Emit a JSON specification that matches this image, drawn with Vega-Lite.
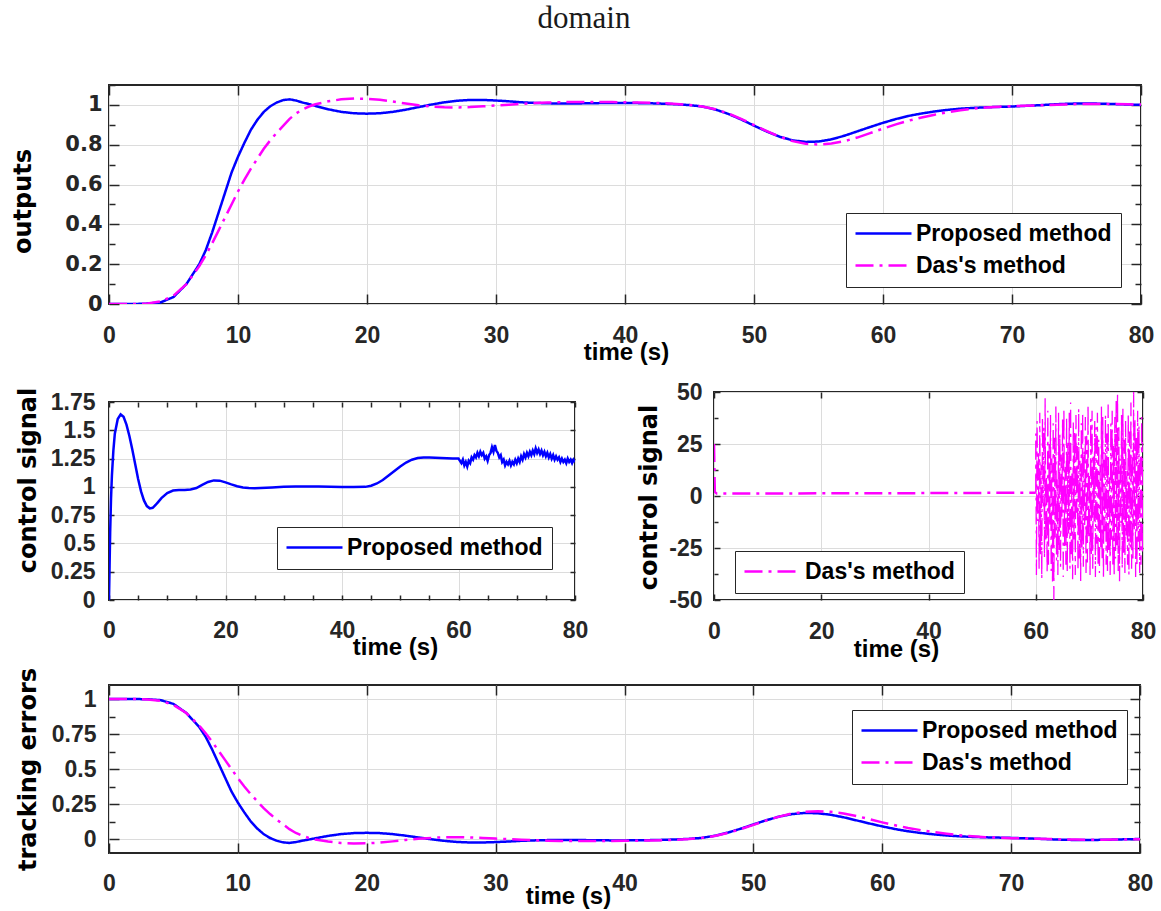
{
"$schema": "https://vega.github.io/schema/vega-lite/v6.json",
"autosize": {"type": "none"},
"padding": {"left": 109, "top": 85, "right": 1052, "bottom": 826},
"background": "white",
"config": {
  "view": {"stroke": "#262626", "strokeWidth": 2},
  "axis": {"domain": false, "labelFont": "Liberation Sans", "labelFontWeight": "bold", "labelFontSize": 23, "labelColor": "#262626",
           "labelFlush": false, "labelOverlap": false, "titleFont": "Liberation Sans", "titleFontWeight": "bold", "titleFontSize": 24,
           "titleColor": "black", "gridColor": "#dcdcdc", "gridWidth": 1, "tickColor": "#262626", "tickWidth": 1.5},
  "legend": {"title": null, "orient": "none", "direction": "vertical", "strokeColor": "#262626", "fillColor": "white", "padding": 9,
             "symbolType": "M-2.8,0L2.8,0", "symbolSize": 400, "symbolStrokeWidth": 2.5, "symbolOffset": 17,
             "labelFont": "Liberation Sans", "labelFontSize": 23, "labelFontWeight": "bold", "labelColor": "black", "labelOffset": 21, "rowPadding": 8, "labelLimit": 400}
},
"datasets": {
  "out": [
    {"t":0,"m":"Proposed method","v":0},{"t":1,"m":"Proposed method","v":0},{"t":2,"m":"Proposed method","v":0},{"t":3,"m":"Proposed method","v":0.002},{"t":4,"m":"Proposed method","v":0.008},{"t":5,"m":"Proposed method","v":0.035},{"t":6,"m":"Proposed method","v":0.1},{"t":6.5,"m":"Proposed method","v":0.15},{"t":7,"m":"Proposed method","v":0.2},{"t":7.5,"m":"Proposed method","v":0.27},{"t":8,"m":"Proposed method","v":0.36},{"t":8.5,"m":"Proposed method","v":0.46},{"t":9,"m":"Proposed method","v":0.56},{"t":9.5,"m":"Proposed method","v":0.66},{"t":10,"m":"Proposed method","v":0.74},{"t":10.5,"m":"Proposed method","v":0.81},{"t":11,"m":"Proposed method","v":0.875},{"t":11.5,"m":"Proposed method","v":0.925},{"t":12,"m":"Proposed method","v":0.965},{"t":12.5,"m":"Proposed method","v":0.993},{"t":13,"m":"Proposed method","v":1.012},{"t":13.5,"m":"Proposed method","v":1.024},{"t":14,"m":"Proposed method","v":1.028},{"t":14.5,"m":"Proposed method","v":1.022},{"t":15,"m":"Proposed method","v":1.012},{"t":15.5,"m":"Proposed method","v":1.004},{"t":16,"m":"Proposed method","v":0.995},{"t":17,"m":"Proposed method","v":0.978},{"t":18,"m":"Proposed method","v":0.965},{"t":19,"m":"Proposed method","v":0.958},{"t":20,"m":"Proposed method","v":0.956},{"t":21,"m":"Proposed method","v":0.958},{"t":22,"m":"Proposed method","v":0.965},{"t":23,"m":"Proposed method","v":0.976},{"t":24,"m":"Proposed method","v":0.989},{"t":25,"m":"Proposed method","v":1.002},{"t":26,"m":"Proposed method","v":1.013},{"t":27,"m":"Proposed method","v":1.021},{"t":28,"m":"Proposed method","v":1.025},{"t":29,"m":"Proposed method","v":1.025},{"t":30,"m":"Proposed method","v":1.022},{"t":31,"m":"Proposed method","v":1.018},{"t":32,"m":"Proposed method","v":1.013},{"t":33,"m":"Proposed method","v":1.01},{"t":34,"m":"Proposed method","v":1.008},{"t":35,"m":"Proposed method","v":1.007},{"t":36,"m":"Proposed method","v":1.007},{"t":37,"m":"Proposed method","v":1.008},{"t":38,"m":"Proposed method","v":1.009},{"t":39,"m":"Proposed method","v":1.01},{"t":40,"m":"Proposed method","v":1.01},{"t":41,"m":"Proposed method","v":1.009},{"t":42,"m":"Proposed method","v":1.008},{"t":43,"m":"Proposed method","v":1.006},{"t":44,"m":"Proposed method","v":1.003},{"t":45,"m":"Proposed method","v":0.999},{"t":46,"m":"Proposed method","v":0.992},{"t":47,"m":"Proposed method","v":0.977},{"t":48,"m":"Proposed method","v":0.955},{"t":49,"m":"Proposed method","v":0.927},{"t":50,"m":"Proposed method","v":0.896},{"t":51,"m":"Proposed method","v":0.866},{"t":52,"m":"Proposed method","v":0.84},{"t":53,"m":"Proposed method","v":0.822},{"t":54,"m":"Proposed method","v":0.814},{"t":55,"m":"Proposed method","v":0.816},{"t":56,"m":"Proposed method","v":0.827},{"t":57,"m":"Proposed method","v":0.845},{"t":58,"m":"Proposed method","v":0.867},{"t":59,"m":"Proposed method","v":0.889},{"t":60,"m":"Proposed method","v":0.91},{"t":61,"m":"Proposed method","v":0.929},{"t":62,"m":"Proposed method","v":0.945},{"t":63,"m":"Proposed method","v":0.957},{"t":64,"m":"Proposed method","v":0.967},{"t":65,"m":"Proposed method","v":0.975},{"t":66,"m":"Proposed method","v":0.981},{"t":67,"m":"Proposed method","v":0.985},{"t":68,"m":"Proposed method","v":0.988},{"t":69,"m":"Proposed method","v":0.99},{"t":70,"m":"Proposed method","v":0.992},{"t":71,"m":"Proposed method","v":0.995},{"t":72,"m":"Proposed method","v":0.998},{"t":73,"m":"Proposed method","v":1.002},{"t":74,"m":"Proposed method","v":1.005},{"t":75,"m":"Proposed method","v":1.007},{"t":76,"m":"Proposed method","v":1.007},{"t":77,"m":"Proposed method","v":1.006},{"t":78,"m":"Proposed method","v":1.004},{"t":79,"m":"Proposed method","v":1.002},{"t":80,"m":"Proposed method","v":1.0},
    {"t":0,"m":"Das's method","v":0},{"t":1,"m":"Das's method","v":0},{"t":2,"m":"Das's method","v":0},{"t":3,"m":"Das's method","v":0.003},{"t":4,"m":"Das's method","v":0.013},{"t":5,"m":"Das's method","v":0.042},{"t":6,"m":"Das's method","v":0.1},{"t":6.5,"m":"Das's method","v":0.145},{"t":7,"m":"Das's method","v":0.19},{"t":7.5,"m":"Das's method","v":0.245},{"t":8,"m":"Das's method","v":0.305},{"t":8.5,"m":"Das's method","v":0.37},{"t":9,"m":"Das's method","v":0.435},{"t":9.5,"m":"Das's method","v":0.5},{"t":10,"m":"Das's method","v":0.565},{"t":10.5,"m":"Das's method","v":0.625},{"t":11,"m":"Das's method","v":0.68},{"t":11.5,"m":"Das's method","v":0.73},{"t":12,"m":"Das's method","v":0.78},{"t":12.5,"m":"Das's method","v":0.822},{"t":13,"m":"Das's method","v":0.86},{"t":13.5,"m":"Das's method","v":0.895},{"t":14,"m":"Das's method","v":0.93},{"t":14.5,"m":"Das's method","v":0.957},{"t":15,"m":"Das's method","v":0.977},{"t":15.5,"m":"Das's method","v":0.992},{"t":16,"m":"Das's method","v":1.003},{"t":17,"m":"Das's method","v":1.018},{"t":18,"m":"Das's method","v":1.028},{"t":19,"m":"Das's method","v":1.032},{"t":20,"m":"Das's method","v":1.031},{"t":21,"m":"Das's method","v":1.026},{"t":22,"m":"Das's method","v":1.017},{"t":23,"m":"Das's method","v":1.007},{"t":24,"m":"Das's method","v":0.998},{"t":25,"m":"Das's method","v":0.992},{"t":26,"m":"Das's method","v":0.988},{"t":27,"m":"Das's method","v":0.987},{"t":28,"m":"Das's method","v":0.989},{"t":29,"m":"Das's method","v":0.993},{"t":30,"m":"Das's method","v":0.997},{"t":31,"m":"Das's method","v":1.001},{"t":32,"m":"Das's method","v":1.005},{"t":33,"m":"Das's method","v":1.009},{"t":34,"m":"Das's method","v":1.012},{"t":35,"m":"Das's method","v":1.014},{"t":36,"m":"Das's method","v":1.015},{"t":37,"m":"Das's method","v":1.015},{"t":38,"m":"Das's method","v":1.015},{"t":39,"m":"Das's method","v":1.014},{"t":40,"m":"Das's method","v":1.013},{"t":41,"m":"Das's method","v":1.012},{"t":42,"m":"Das's method","v":1.011},{"t":43,"m":"Das's method","v":1.009},{"t":44,"m":"Das's method","v":1.005},{"t":45,"m":"Das's method","v":1.0},{"t":46,"m":"Das's method","v":0.992},{"t":47,"m":"Das's method","v":0.978},{"t":48,"m":"Das's method","v":0.957},{"t":49,"m":"Das's method","v":0.93},{"t":50,"m":"Das's method","v":0.899},{"t":51,"m":"Das's method","v":0.868},{"t":52,"m":"Das's method","v":0.84},{"t":53,"m":"Das's method","v":0.818},{"t":54,"m":"Das's method","v":0.805},{"t":55,"m":"Das's method","v":0.801},{"t":56,"m":"Das's method","v":0.806},{"t":57,"m":"Das's method","v":0.818},{"t":58,"m":"Das's method","v":0.836},{"t":59,"m":"Das's method","v":0.858},{"t":60,"m":"Das's method","v":0.881},{"t":61,"m":"Das's method","v":0.902},{"t":62,"m":"Das's method","v":0.921},{"t":63,"m":"Das's method","v":0.937},{"t":64,"m":"Das's method","v":0.951},{"t":65,"m":"Das's method","v":0.963},{"t":66,"m":"Das's method","v":0.973},{"t":67,"m":"Das's method","v":0.981},{"t":68,"m":"Das's method","v":0.987},{"t":69,"m":"Das's method","v":0.991},{"t":70,"m":"Das's method","v":0.994},{"t":71,"m":"Das's method","v":0.996},{"t":72,"m":"Das's method","v":0.998},{"t":73,"m":"Das's method","v":1.0},{"t":74,"m":"Das's method","v":1.002},{"t":75,"m":"Das's method","v":1.004},{"t":76,"m":"Das's method","v":1.005},{"t":77,"m":"Das's method","v":1.005},{"t":78,"m":"Das's method","v":1.004},{"t":79,"m":"Das's method","v":1.003},{"t":80,"m":"Das's method","v":1.002}
  ],
  "err": [
    {"t":0,"m":"Proposed method","v":1},{"t":1,"m":"Proposed method","v":1},{"t":2,"m":"Proposed method","v":1},{"t":3,"m":"Proposed method","v":0.998},{"t":4,"m":"Proposed method","v":0.992},{"t":5,"m":"Proposed method","v":0.965},{"t":6,"m":"Proposed method","v":0.9},{"t":6.5,"m":"Proposed method","v":0.85},{"t":7,"m":"Proposed method","v":0.8},{"t":7.5,"m":"Proposed method","v":0.73},{"t":8,"m":"Proposed method","v":0.64},{"t":8.5,"m":"Proposed method","v":0.54},{"t":9,"m":"Proposed method","v":0.44},{"t":9.5,"m":"Proposed method","v":0.34},{"t":10,"m":"Proposed method","v":0.26},{"t":10.5,"m":"Proposed method","v":0.19},{"t":11,"m":"Proposed method","v":0.125},{"t":11.5,"m":"Proposed method","v":0.075},{"t":12,"m":"Proposed method","v":0.035},{"t":12.5,"m":"Proposed method","v":0.007},{"t":13,"m":"Proposed method","v":-0.012},{"t":13.5,"m":"Proposed method","v":-0.024},{"t":14,"m":"Proposed method","v":-0.028},{"t":14.5,"m":"Proposed method","v":-0.022},{"t":15,"m":"Proposed method","v":-0.012},{"t":15.5,"m":"Proposed method","v":-0.004},{"t":16,"m":"Proposed method","v":0.005},{"t":17,"m":"Proposed method","v":0.022},{"t":18,"m":"Proposed method","v":0.035},{"t":19,"m":"Proposed method","v":0.042},{"t":20,"m":"Proposed method","v":0.044},{"t":21,"m":"Proposed method","v":0.042},{"t":22,"m":"Proposed method","v":0.035},{"t":23,"m":"Proposed method","v":0.024},{"t":24,"m":"Proposed method","v":0.011},{"t":25,"m":"Proposed method","v":-0.002},{"t":26,"m":"Proposed method","v":-0.013},{"t":27,"m":"Proposed method","v":-0.021},{"t":28,"m":"Proposed method","v":-0.025},{"t":29,"m":"Proposed method","v":-0.025},{"t":30,"m":"Proposed method","v":-0.022},{"t":31,"m":"Proposed method","v":-0.018},{"t":32,"m":"Proposed method","v":-0.013},{"t":33,"m":"Proposed method","v":-0.01},{"t":34,"m":"Proposed method","v":-0.008},{"t":35,"m":"Proposed method","v":-0.007},{"t":36,"m":"Proposed method","v":-0.007},{"t":37,"m":"Proposed method","v":-0.008},{"t":38,"m":"Proposed method","v":-0.009},{"t":39,"m":"Proposed method","v":-0.01},{"t":40,"m":"Proposed method","v":-0.01},{"t":41,"m":"Proposed method","v":-0.009},{"t":42,"m":"Proposed method","v":-0.008},{"t":43,"m":"Proposed method","v":-0.006},{"t":44,"m":"Proposed method","v":-0.003},{"t":45,"m":"Proposed method","v":0.001},{"t":46,"m":"Proposed method","v":0.008},{"t":47,"m":"Proposed method","v":0.023},{"t":48,"m":"Proposed method","v":0.045},{"t":49,"m":"Proposed method","v":0.073},{"t":50,"m":"Proposed method","v":0.104},{"t":51,"m":"Proposed method","v":0.134},{"t":52,"m":"Proposed method","v":0.16},{"t":53,"m":"Proposed method","v":0.178},{"t":54,"m":"Proposed method","v":0.186},{"t":55,"m":"Proposed method","v":0.184},{"t":56,"m":"Proposed method","v":0.173},{"t":57,"m":"Proposed method","v":0.155},{"t":58,"m":"Proposed method","v":0.133},{"t":59,"m":"Proposed method","v":0.111},{"t":60,"m":"Proposed method","v":0.09},{"t":61,"m":"Proposed method","v":0.071},{"t":62,"m":"Proposed method","v":0.055},{"t":63,"m":"Proposed method","v":0.043},{"t":64,"m":"Proposed method","v":0.033},{"t":65,"m":"Proposed method","v":0.025},{"t":66,"m":"Proposed method","v":0.019},{"t":67,"m":"Proposed method","v":0.015},{"t":68,"m":"Proposed method","v":0.012},{"t":69,"m":"Proposed method","v":0.01},{"t":70,"m":"Proposed method","v":0.008},{"t":71,"m":"Proposed method","v":0.005},{"t":72,"m":"Proposed method","v":0.002},{"t":73,"m":"Proposed method","v":-0.002},{"t":74,"m":"Proposed method","v":-0.005},{"t":75,"m":"Proposed method","v":-0.007},{"t":76,"m":"Proposed method","v":-0.007},{"t":77,"m":"Proposed method","v":-0.006},{"t":78,"m":"Proposed method","v":-0.004},{"t":79,"m":"Proposed method","v":-0.002},{"t":80,"m":"Proposed method","v":0},
    {"t":0,"m":"Das's method","v":1},{"t":1,"m":"Das's method","v":1},{"t":2,"m":"Das's method","v":1},{"t":3,"m":"Das's method","v":0.997},{"t":4,"m":"Das's method","v":0.987},{"t":5,"m":"Das's method","v":0.958},{"t":6,"m":"Das's method","v":0.9},{"t":6.5,"m":"Das's method","v":0.855},{"t":7,"m":"Das's method","v":0.81},{"t":7.5,"m":"Das's method","v":0.755},{"t":8,"m":"Das's method","v":0.695},{"t":8.5,"m":"Das's method","v":0.63},{"t":9,"m":"Das's method","v":0.565},{"t":9.5,"m":"Das's method","v":0.5},{"t":10,"m":"Das's method","v":0.435},{"t":10.5,"m":"Das's method","v":0.375},{"t":11,"m":"Das's method","v":0.32},{"t":11.5,"m":"Das's method","v":0.27},{"t":12,"m":"Das's method","v":0.22},{"t":12.5,"m":"Das's method","v":0.178},{"t":13,"m":"Das's method","v":0.14},{"t":13.5,"m":"Das's method","v":0.105},{"t":14,"m":"Das's method","v":0.07},{"t":14.5,"m":"Das's method","v":0.043},{"t":15,"m":"Das's method","v":0.023},{"t":15.5,"m":"Das's method","v":0.008},{"t":16,"m":"Das's method","v":-0.003},{"t":17,"m":"Das's method","v":-0.018},{"t":18,"m":"Das's method","v":-0.028},{"t":19,"m":"Das's method","v":-0.032},{"t":20,"m":"Das's method","v":-0.031},{"t":21,"m":"Das's method","v":-0.026},{"t":22,"m":"Das's method","v":-0.017},{"t":23,"m":"Das's method","v":-0.007},{"t":24,"m":"Das's method","v":0.002},{"t":25,"m":"Das's method","v":0.008},{"t":26,"m":"Das's method","v":0.012},{"t":27,"m":"Das's method","v":0.013},{"t":28,"m":"Das's method","v":0.011},{"t":29,"m":"Das's method","v":0.007},{"t":30,"m":"Das's method","v":0.003},{"t":31,"m":"Das's method","v":-0.001},{"t":32,"m":"Das's method","v":-0.005},{"t":33,"m":"Das's method","v":-0.009},{"t":34,"m":"Das's method","v":-0.012},{"t":35,"m":"Das's method","v":-0.014},{"t":36,"m":"Das's method","v":-0.015},{"t":37,"m":"Das's method","v":-0.015},{"t":38,"m":"Das's method","v":-0.015},{"t":39,"m":"Das's method","v":-0.014},{"t":40,"m":"Das's method","v":-0.013},{"t":41,"m":"Das's method","v":-0.012},{"t":42,"m":"Das's method","v":-0.011},{"t":43,"m":"Das's method","v":-0.009},{"t":44,"m":"Das's method","v":-0.005},{"t":45,"m":"Das's method","v":0},{"t":46,"m":"Das's method","v":0.008},{"t":47,"m":"Das's method","v":0.022},{"t":48,"m":"Das's method","v":0.043},{"t":49,"m":"Das's method","v":0.07},{"t":50,"m":"Das's method","v":0.101},{"t":51,"m":"Das's method","v":0.132},{"t":52,"m":"Das's method","v":0.16},{"t":53,"m":"Das's method","v":0.182},{"t":54,"m":"Das's method","v":0.195},{"t":55,"m":"Das's method","v":0.199},{"t":56,"m":"Das's method","v":0.194},{"t":57,"m":"Das's method","v":0.182},{"t":58,"m":"Das's method","v":0.164},{"t":59,"m":"Das's method","v":0.142},{"t":60,"m":"Das's method","v":0.119},{"t":61,"m":"Das's method","v":0.098},{"t":62,"m":"Das's method","v":0.079},{"t":63,"m":"Das's method","v":0.063},{"t":64,"m":"Das's method","v":0.049},{"t":65,"m":"Das's method","v":0.037},{"t":66,"m":"Das's method","v":0.027},{"t":67,"m":"Das's method","v":0.019},{"t":68,"m":"Das's method","v":0.013},{"t":69,"m":"Das's method","v":0.009},{"t":70,"m":"Das's method","v":0.006},{"t":71,"m":"Das's method","v":0.004},{"t":72,"m":"Das's method","v":0.002},{"t":73,"m":"Das's method","v":0},{"t":74,"m":"Das's method","v":-0.002},{"t":75,"m":"Das's method","v":-0.004},{"t":76,"m":"Das's method","v":-0.005},{"t":77,"m":"Das's method","v":-0.005},{"t":78,"m":"Das's method","v":-0.004},{"t":79,"m":"Das's method","v":-0.003},{"t":80,"m":"Das's method","v":-0.002}
  ],
  "cp": [
    {"t":0,"m":"Proposed method","v":0},{"t":0.1,"m":"Proposed method","v":0.3},{"t":0.2,"m":"Proposed method","v":0.6},{"t":0.35,"m":"Proposed method","v":0.9},{"t":0.5,"m":"Proposed method","v":1.1},{"t":0.75,"m":"Proposed method","v":1.32},{"t":1,"m":"Proposed method","v":1.47},{"t":1.5,"m":"Proposed method","v":1.6},{"t":2,"m":"Proposed method","v":1.64},{"t":2.5,"m":"Proposed method","v":1.62},{"t":3,"m":"Proposed method","v":1.55},{"t":3.5,"m":"Proposed method","v":1.45},{"t":4,"m":"Proposed method","v":1.33},{"t":4.5,"m":"Proposed method","v":1.2},{"t":5,"m":"Proposed method","v":1.07},{"t":5.5,"m":"Proposed method","v":0.96},{"t":6,"m":"Proposed method","v":0.88},{"t":6.5,"m":"Proposed method","v":0.83},{"t":7,"m":"Proposed method","v":0.81},{"t":7.5,"m":"Proposed method","v":0.815},{"t":8,"m":"Proposed method","v":0.84},{"t":8.5,"m":"Proposed method","v":0.87},{"t":9,"m":"Proposed method","v":0.9},{"t":10,"m":"Proposed method","v":0.945},{"t":11,"m":"Proposed method","v":0.967},{"t":12,"m":"Proposed method","v":0.972},{"t":13,"m":"Proposed method","v":0.973},{"t":14,"m":"Proposed method","v":0.977},{"t":15,"m":"Proposed method","v":0.99},{"t":16,"m":"Proposed method","v":1.018},{"t":17,"m":"Proposed method","v":1.043},{"t":18,"m":"Proposed method","v":1.057},{"t":19,"m":"Proposed method","v":1.055},{"t":20,"m":"Proposed method","v":1.04},{"t":21,"m":"Proposed method","v":1.022},{"t":22,"m":"Proposed method","v":1.006},{"t":23,"m":"Proposed method","v":0.995},{"t":24,"m":"Proposed method","v":0.99},{"t":25,"m":"Proposed method","v":0.988},{"t":26,"m":"Proposed method","v":0.99},{"t":28,"m":"Proposed method","v":0.995},{"t":30,"m":"Proposed method","v":1.0},{"t":32,"m":"Proposed method","v":1.003},{"t":34,"m":"Proposed method","v":1.004},{"t":36,"m":"Proposed method","v":1.003},{"t":38,"m":"Proposed method","v":1.0},{"t":40,"m":"Proposed method","v":0.998},{"t":42,"m":"Proposed method","v":0.998},{"t":44,"m":"Proposed method","v":1.0},{"t":45,"m":"Proposed method","v":1.01},{"t":46,"m":"Proposed method","v":1.03},{"t":47,"m":"Proposed method","v":1.06},{"t":48,"m":"Proposed method","v":1.1},{"t":49,"m":"Proposed method","v":1.14},{"t":50,"m":"Proposed method","v":1.18},{"t":51,"m":"Proposed method","v":1.215},{"t":52,"m":"Proposed method","v":1.24},{"t":53,"m":"Proposed method","v":1.255},{"t":54,"m":"Proposed method","v":1.26},{"t":55,"m":"Proposed method","v":1.26},{"t":56,"m":"Proposed method","v":1.258},{"t":57,"m":"Proposed method","v":1.255},{"t":58,"m":"Proposed method","v":1.252},{"t":59,"m":"Proposed method","v":1.25},
    {"t":60,"m":"Proposed method","v":1.25},{"t":60.25,"m":"Proposed method","v":1.23},{"t":60.5,"m":"Proposed method","v":1.21},{"t":60.75,"m":"Proposed method","v":1.24},{"t":61,"m":"Proposed method","v":1.19},{"t":61.25,"m":"Proposed method","v":1.22},{"t":61.5,"m":"Proposed method","v":1.18},{"t":61.75,"m":"Proposed method","v":1.23},{"t":62,"m":"Proposed method","v":1.21},{"t":62.25,"m":"Proposed method","v":1.26},{"t":62.5,"m":"Proposed method","v":1.24},{"t":62.75,"m":"Proposed method","v":1.28},{"t":63,"m":"Proposed method","v":1.26},{"t":63.25,"m":"Proposed method","v":1.3},{"t":63.5,"m":"Proposed method","v":1.27},{"t":63.75,"m":"Proposed method","v":1.31},{"t":64,"m":"Proposed method","v":1.28},{"t":64.25,"m":"Proposed method","v":1.3},{"t":64.5,"m":"Proposed method","v":1.25},{"t":64.75,"m":"Proposed method","v":1.27},{"t":65,"m":"Proposed method","v":1.23},{"t":65.25,"m":"Proposed method","v":1.28},{"t":65.5,"m":"Proposed method","v":1.3},{"t":65.75,"m":"Proposed method","v":1.35},{"t":66,"m":"Proposed method","v":1.31},{"t":66.25,"m":"Proposed method","v":1.37},{"t":66.5,"m":"Proposed method","v":1.32},{"t":66.75,"m":"Proposed method","v":1.3},{"t":67,"m":"Proposed method","v":1.26},{"t":67.25,"m":"Proposed method","v":1.28},{"t":67.5,"m":"Proposed method","v":1.22},{"t":67.75,"m":"Proposed method","v":1.24},{"t":68,"m":"Proposed method","v":1.19},{"t":68.25,"m":"Proposed method","v":1.22},{"t":68.5,"m":"Proposed method","v":1.2},{"t":68.75,"m":"Proposed method","v":1.23},{"t":69,"m":"Proposed method","v":1.19},{"t":69.25,"m":"Proposed method","v":1.22},{"t":69.5,"m":"Proposed method","v":1.2},{"t":69.75,"m":"Proposed method","v":1.24},{"t":70,"m":"Proposed method","v":1.21},{"t":70.25,"m":"Proposed method","v":1.25},{"t":70.5,"m":"Proposed method","v":1.22},{"t":70.75,"m":"Proposed method","v":1.27},{"t":71,"m":"Proposed method","v":1.24},{"t":71.25,"m":"Proposed method","v":1.29},{"t":71.5,"m":"Proposed method","v":1.26},{"t":71.75,"m":"Proposed method","v":1.3},{"t":72,"m":"Proposed method","v":1.27},{"t":72.25,"m":"Proposed method","v":1.31},{"t":72.5,"m":"Proposed method","v":1.28},{"t":72.75,"m":"Proposed method","v":1.32},{"t":73,"m":"Proposed method","v":1.29},{"t":73.25,"m":"Proposed method","v":1.34},{"t":73.5,"m":"Proposed method","v":1.3},{"t":73.75,"m":"Proposed method","v":1.33},{"t":74,"m":"Proposed method","v":1.29},{"t":74.25,"m":"Proposed method","v":1.32},{"t":74.5,"m":"Proposed method","v":1.28},{"t":74.75,"m":"Proposed method","v":1.31},{"t":75,"m":"Proposed method","v":1.27},{"t":75.25,"m":"Proposed method","v":1.3},{"t":75.5,"m":"Proposed method","v":1.26},{"t":75.75,"m":"Proposed method","v":1.29},{"t":76,"m":"Proposed method","v":1.25},{"t":76.25,"m":"Proposed method","v":1.28},{"t":76.5,"m":"Proposed method","v":1.24},{"t":76.75,"m":"Proposed method","v":1.27},{"t":77,"m":"Proposed method","v":1.24},{"t":77.25,"m":"Proposed method","v":1.26},{"t":77.5,"m":"Proposed method","v":1.22},{"t":77.75,"m":"Proposed method","v":1.25},{"t":78,"m":"Proposed method","v":1.22},{"t":78.25,"m":"Proposed method","v":1.24},{"t":78.5,"m":"Proposed method","v":1.21},{"t":78.75,"m":"Proposed method","v":1.25},{"t":79,"m":"Proposed method","v":1.22},{"t":79.25,"m":"Proposed method","v":1.24},{"t":79.5,"m":"Proposed method","v":1.21},{"t":79.75,"m":"Proposed method","v":1.24},{"t":80,"m":"Proposed method","v":1.22}
  ],
  "cd": [
    {"t":0,"m":"Das's method","v":25},{"t":0.15,"m":"Das's method","v":2},{"t":0.5,"m":"Das's method","v":1.2},{"t":10,"m":"Das's method","v":1.2},{"t":20,"m":"Das's method","v":1.3},{"t":30,"m":"Das's method","v":1.3},{"t":40,"m":"Das's method","v":1.4},{"t":50,"m":"Das's method","v":1.5},{"t":60,"m":"Das's method","v":1.6}
  ],
  "cdn": [
    {"t":60,"v":1.6},
    {"t":60,"v":30},{"t":60.125,"v":-38},{"t":60.25,"v":36},{"t":60.375,"v":-12},{"t":60.5,"v":22},{"t":60.625,"v":-35},{"t":60.75,"v":40},{"t":60.875,"v":-28},
    {"t":61,"v":15},{"t":61.125,"v":-40},{"t":61.25,"v":38},{"t":61.375,"v":-5},{"t":61.5,"v":33},{"t":61.625,"v":-30},{"t":61.75,"v":47},{"t":61.875,"v":-22},
    {"t":62,"v":10},{"t":62.125,"v":-37},{"t":62.25,"v":41},{"t":62.375,"v":-33},{"t":62.5,"v":25},{"t":62.625,"v":-15},{"t":62.75,"v":39},{"t":62.875,"v":-36},
    {"t":63,"v":18},{"t":63.125,"v":-42},{"t":63.25,"v":35},{"t":63.375,"v":-50},{"t":63.5,"v":28},{"t":63.625,"v":-20},{"t":63.75,"v":43},{"t":63.875,"v":-31},
    {"t":64,"v":8},{"t":64.125,"v":-38},{"t":64.25,"v":40},{"t":64.375,"v":-26},{"t":64.5,"v":30},{"t":64.625,"v":-34},{"t":64.75,"v":20},{"t":64.875,"v":-10},
    {"t":65,"v":37},{"t":65.125,"v":-39},{"t":65.25,"v":42},{"t":65.375,"v":-24},{"t":65.5,"v":14},{"t":65.625,"v":-33},{"t":65.75,"v":38},{"t":65.875,"v":-37},
    {"t":66,"v":26},{"t":66.125,"v":-18},{"t":66.25,"v":40},{"t":66.375,"v":-35},{"t":66.5,"v":45},{"t":66.625,"v":-28},{"t":66.75,"v":12},{"t":66.875,"v":-40},
    {"t":67,"v":36},{"t":67.125,"v":-22},{"t":67.25,"v":31},{"t":67.375,"v":-38},{"t":67.5,"v":39},{"t":67.625,"v":-8},{"t":67.75,"v":24},{"t":67.875,"v":-36},
    {"t":68,"v":42},{"t":68.125,"v":-30},{"t":68.25,"v":17},{"t":68.375,"v":-41},{"t":68.5,"v":35},{"t":68.625,"v":-25},{"t":68.75,"v":40},{"t":68.875,"v":-34},
    {"t":69,"v":22},{"t":69.125,"v":-14},{"t":69.25,"v":38},{"t":69.375,"v":-37},{"t":69.5,"v":29},{"t":69.625,"v":-32},{"t":69.75,"v":44},{"t":69.875,"v":-20},
    {"t":70,"v":11},{"t":70.125,"v":-38},{"t":70.25,"v":37},{"t":70.375,"v":-29},{"t":70.5,"v":41},{"t":70.625,"v":-35},{"t":70.75,"v":19},{"t":70.875,"v":-12},
    {"t":71,"v":36},{"t":71.125,"v":-39},{"t":71.25,"v":33},{"t":71.375,"v":-23},{"t":71.5,"v":40},{"t":71.625,"v":-34},{"t":71.75,"v":27},{"t":71.875,"v":-37},
    {"t":72,"v":15},{"t":72.125,"v":-26},{"t":72.25,"v":43},{"t":72.375,"v":-31},{"t":72.5,"v":38},{"t":72.625,"v":-40},{"t":72.75,"v":21},{"t":72.875,"v":-17},
    {"t":73,"v":39},{"t":73.125,"v":-33},{"t":73.25,"v":30},{"t":73.375,"v":-36},{"t":73.5,"v":44},{"t":73.625,"v":-27},{"t":73.75,"v":9},{"t":73.875,"v":-38},
    {"t":74,"v":35},{"t":74.125,"v":-21},{"t":74.25,"v":41},{"t":74.375,"v":-34},{"t":74.5,"v":25},{"t":74.625,"v":-39},{"t":74.75,"v":38},{"t":74.875,"v":-30},
    {"t":75,"v":46},{"t":75.125,"v":-24},{"t":75.25,"v":50},{"t":75.375,"v":-36},{"t":75.5,"v":33},{"t":75.625,"v":-41},{"t":75.75,"v":18},{"t":75.875,"v":-13},
    {"t":76,"v":39},{"t":76.125,"v":-35},{"t":76.25,"v":42},{"t":76.375,"v":-28},{"t":76.5,"v":27},{"t":76.625,"v":-37},{"t":76.75,"v":36},{"t":76.875,"v":-19},
    {"t":77,"v":12},{"t":77.125,"v":-33},{"t":77.25,"v":40},{"t":77.375,"v":-38},{"t":77.5,"v":31},{"t":77.625,"v":-25},{"t":77.75,"v":45},{"t":77.875,"v":-35},
    {"t":78,"v":22},{"t":78.125,"v":-30},{"t":78.25,"v":50},{"t":78.375,"v":-16},{"t":78.5,"v":37},{"t":78.625,"v":-39},{"t":78.75,"v":29},{"t":78.875,"v":-34},
    {"t":79,"v":41},{"t":79.125,"v":-22},{"t":79.25,"v":34},{"t":79.375,"v":-37},{"t":79.5,"v":20},{"t":79.625,"v":-33},{"t":79.75,"v":38},{"t":79.875,"v":-28},
    {"t":80,"v":26}
  ]
},
"bounds": "flush",
"spacing": 0,
"resolve": {"scale": {"color": "independent", "strokeDash": "independent"}, "legend": {"color": "independent", "strokeDash": "independent"}},
"vconcat": [
  {
    "width": 1032, "height": 219,
    "data": {"name": "out"},
    "title": {"text": "domain", "font": "Liberation Serif", "fontSize": 31, "fontWeight": "normal", "color": "#1a1a1a", "anchor": "middle", "frame": "group", "dx": -41, "offset": 25, "baseline": "alphabetic"},
    "resolve": {"axis": {"x": "independent", "y": "independent"}},
    "layer": [
      {
        "mark": {"type": "line", "strokeWidth": 2.5, "clip": true},
        "encoding": {
          "x": {"field": "t", "type": "quantitative", "scale": {"domain": [0, 80], "nice": false, "zero": false},
                "axis": {"orient": "bottom", "values": [0,10,20,30,40,50,60,70,80], "ticks": false, "grid": true, "labelPadding": 20, "labelExpr": "'' + datum.value",
                         "title": "time (s)", "titleX": 517, "titleY": 55, "titleAlign": "center", "titleBaseline": "alphabetic"}},
          "y": {"field": "v", "type": "quantitative", "scale": {"domain": [0, 1.1], "nice": false, "zero": false},
                "axis": {"orient": "left", "values": [0,0.2,0.4,0.6,0.8,1], "ticks": false, "grid": true, "labelPadding": 7, "labelFont": "DejaVu Sans", "labelFontSize": 21, "labelExpr": "'' + datum.value",
                         "title": "outputs", "titleFont": "DejaVu Sans", "titleFontSize": 24, "titleAngle": 270, "titleX": -86, "titleY": 116, "titleAlign": "center", "titleBaseline": "middle"}},
          "color": {"field": "m", "type": "nominal", "scale": {"domain": ["Proposed method", "Das's method"], "range": ["#0000ff", "#ff00ff"]},
                    "legend": {"legendX": 737, "legendY": 128}},
          "strokeDash": {"field": "m", "type": "nominal", "scale": {"domain": ["Proposed method", "Das's method"], "range": [[1, 0], [18, 6, 3, 6]]},
                    "legend": {"legendX": 737, "legendY": 128}}
        }
      },
      {
        "mark": {"type": "point", "opacity": 0},
        "encoding": {
          "x": {"field": "t", "type": "quantitative", "scale": {"domain": [0, 80], "nice": false, "zero": false},
                "axis": {"orient": "bottom", "values": [0,10,20,30,40,50,60,70,80], "labels": false, "grid": false, "tickSize": -10, "title": null}},
          "y": {"field": "v", "type": "quantitative", "scale": {"domain": [0, 1.1], "nice": false, "zero": false},
                "axis": {"orient": "left", "values": [0,0.1,0.2,0.3,0.4,0.5,0.6,0.7,0.8,0.9,1,1.1], "labels": false, "grid": false, "title": null,
                         "tickSize": {"condition": {"test": "abs(datum.value*5 - round(datum.value*5)) < 0.01", "value": -10}, "value": -6}}}
        }
      },
      {
        "mark": {"type": "point", "opacity": 0},
        "encoding": {
          "x": {"field": "t", "type": "quantitative", "scale": {"domain": [0, 80], "nice": false, "zero": false},
                "axis": {"orient": "top", "values": [0,10,20,30,40,50,60,70,80], "labels": false, "grid": false, "tickSize": -10, "title": null}},
          "y": {"field": "v", "type": "quantitative", "scale": {"domain": [0, 1.1], "nice": false, "zero": false},
                "axis": {"orient": "right", "values": [0,0.1,0.2,0.3,0.4,0.5,0.6,0.7,0.8,0.9,1,1.1], "labels": false, "grid": false, "title": null,
                         "tickSize": {"condition": {"test": "abs(datum.value*5 - round(datum.value*5)) < 0.01", "value": -10}, "value": -6}}}
        }
      }
    ]
  },
  {"width": 1, "height": 88, "view": {"stroke": null}, "data": {"values": [{}]}, "mark": {"type": "point", "opacity": 0}},
  {
    "bounds": "flush",
    "spacing": 605,
    "resolve": {"scale": {"color": "independent", "strokeDash": "independent"}, "legend": {"color": "independent", "strokeDash": "independent"}},
    "hconcat": [
      {
        "bounds": "flush",
        "spacing": 9,
        "vconcat": [
          {"width": 1, "height": 1, "view": {"stroke": null}, "data": {"values": [{}]}, "mark": {"type": "point", "opacity": 0}},
          {
            "width": 466, "height": 198,
            "data": {"name": "cp"},
            "resolve": {"axis": {"x": "independent", "y": "independent"}},
            "layer": [
              {
                "mark": {"type": "line", "strokeWidth": 2.5, "clip": true},
                "encoding": {
                  "x": {"field": "t", "type": "quantitative", "scale": {"domain": [0, 80], "nice": false, "zero": false},
                        "axis": {"orient": "bottom", "values": [0,20,40,60,80], "ticks": false, "grid": true, "labelPadding": 19, "labelExpr": "'' + datum.value",
                                 "title": "time (s)", "titleX": 286, "titleY": 54, "titleAlign": "center", "titleBaseline": "alphabetic"}},
                  "y": {"field": "v", "type": "quantitative", "scale": {"domain": [0, 1.75], "nice": false, "zero": false},
                        "axis": {"orient": "left", "values": [0,0.25,0.5,0.75,1,1.25,1.5,1.75], "ticks": false, "grid": true, "labelPadding": 14, "labelExpr": "'' + datum.value",
                                 "title": "control signal", "titleFont": "DejaVu Sans", "titleFontSize": 24, "titleAngle": 270, "titleX": -81, "titleY": 78, "titleAlign": "center", "titleBaseline": "middle"}},
                  "color": {"field": "m", "type": "nominal", "scale": {"domain": ["Proposed method"], "range": ["#0000ff"]},
                            "legend": {"legendX": 168, "legendY": 135}}
                }
              },
              {
                "mark": {"type": "point", "opacity": 0},
                "encoding": {
                  "x": {"field": "t", "type": "quantitative", "scale": {"domain": [0, 80], "nice": false, "zero": false},
                        "axis": {"orient": "bottom", "values": [0,5,10,15,20,25,30,35,40,45,50,55,60,65,70,75,80], "labels": false, "grid": false, "tickSize": -5, "title": null}},
                  "y": {"field": "v", "type": "quantitative", "scale": {"domain": [0, 1.75], "nice": false, "zero": false},
                        "axis": {"orient": "left", "values": [0,0.25,0.5,0.75,1,1.25,1.5,1.75], "labels": false, "grid": false, "tickSize": -5, "title": null}}
                }
              },
              {
                "mark": {"type": "point", "opacity": 0},
                "encoding": {
                  "x": {"field": "t", "type": "quantitative", "scale": {"domain": [0, 80], "nice": false, "zero": false},
                        "axis": {"orient": "top", "values": [0,5,10,15,20,25,30,35,40,45,50,55,60,65,70,75,80], "labels": false, "grid": false, "tickSize": -5, "title": null}},
                  "y": {"field": "v", "type": "quantitative", "scale": {"domain": [0, 1.75], "nice": false, "zero": false},
                        "axis": {"orient": "right", "values": [0,0.25,0.5,0.75,1,1.25,1.5,1.75], "labels": false, "grid": false, "tickSize": -5, "title": null}}
                }
              }
            ]
          }
        ]
      },
      {
        "width": 429, "height": 208,
        "data": {"name": "cd"},
        "resolve": {"axis": {"x": "independent", "y": "independent"}},
        "layer": [
          {
            "mark": {"type": "line", "strokeWidth": 2.5, "clip": true},
            "encoding": {
              "x": {"field": "t", "type": "quantitative", "scale": {"domain": [0, 80], "nice": false, "zero": false},
                    "axis": {"orient": "bottom", "values": [0,20,40,60,80], "ticks": false, "grid": true, "labelPadding": 20, "labelExpr": "'' + datum.value",
                             "title": "time (s)", "titleX": 182, "titleY": 56, "titleAlign": "center", "titleBaseline": "alphabetic"}},
              "y": {"field": "v", "type": "quantitative", "scale": {"domain": [-50, 50], "nice": false, "zero": false},
                    "axis": {"orient": "left", "values": [-50,-25,0,25,50], "ticks": false, "grid": true, "labelPadding": 12, "labelExpr": "'' + datum.value",
                             "title": "control signal", "titleFont": "DejaVu Sans", "titleFontSize": 24, "titleAngle": 270, "titleX": -65, "titleY": 105, "titleAlign": "center", "titleBaseline": "middle"}},
              "color": {"field": "m", "type": "nominal", "scale": {"domain": ["Das's method"], "range": ["#ff00ff"]},
                        "legend": {"legendX": 21, "legendY": 159}},
              "strokeDash": {"field": "m", "type": "nominal", "scale": {"domain": ["Das's method"], "range": [[18, 6, 3, 6]]},
                        "legend": {"legendX": 21, "legendY": 159}}
            }
          },
          {
            "data": {"name": "cdn"},
            "mark": {"type": "line", "strokeWidth": 1.3, "color": "#ff00ff", "strokeDash": [18, 6, 3, 6], "clip": true},
            "encoding": {
              "x": {"field": "t", "type": "quantitative", "scale": {"domain": [0, 80], "nice": false, "zero": false}, "axis": null},
              "y": {"field": "v", "type": "quantitative", "scale": {"domain": [-50, 50], "nice": false, "zero": false}, "axis": null}
            }
          },
          {
            "mark": {"type": "point", "opacity": 0},
            "encoding": {
              "x": {"field": "t", "type": "quantitative", "scale": {"domain": [0, 80], "nice": false, "zero": false},
                    "axis": {"orient": "bottom", "values": [0,20,40,60,80], "labels": false, "grid": false, "tickSize": -6, "title": null}},
              "y": {"field": "v", "type": "quantitative", "scale": {"domain": [-50, 50], "nice": false, "zero": false},
                    "axis": {"orient": "left", "values": [-50,-37.5,-25,-12.5,0,12.5,25,37.5,50], "labels": false, "grid": false, "title": null,
                             "tickSize": {"condition": {"test": "abs(datum.value % 25) < 0.01", "value": -6}, "value": -4}}}
            }
          },
          {
            "mark": {"type": "point", "opacity": 0},
            "encoding": {
              "x": {"field": "t", "type": "quantitative", "scale": {"domain": [0, 80], "nice": false, "zero": false},
                    "axis": {"orient": "top", "values": [0,20,40,60,80], "labels": false, "grid": false, "tickSize": -6, "title": null}},
              "y": {"field": "v", "type": "quantitative", "scale": {"domain": [-50, 50], "nice": false, "zero": false},
                    "axis": {"orient": "right", "values": [-50,-37.5,-25,-12.5,0,12.5,25,37.5,50], "labels": false, "grid": false, "title": null,
                             "tickSize": {"condition": {"test": "abs(datum.value % 25) < 0.01", "value": -6}, "value": -4}}}
            }
          }
        ]
      }
    ]
  },
  {"width": 1, "height": 293, "view": {"stroke": null}, "data": {"values": [{}]}, "mark": {"type": "point", "opacity": 0}},
  {
    "width": 1031, "height": 168,
    "data": {"name": "err"},
    "resolve": {"axis": {"x": "independent", "y": "independent"}},
    "layer": [
      {
        "mark": {"type": "line", "strokeWidth": 2.5, "clip": true},
        "encoding": {
          "x": {"field": "t", "type": "quantitative", "scale": {"domain": [0, 80], "nice": false, "zero": false},
                "axis": {"orient": "bottom", "values": [0,10,20,30,40,50,60,70,80], "ticks": false, "grid": true, "labelPadding": 19, "labelExpr": "'' + datum.value",
                         "title": "time (s)", "titleX": 459, "titleY": 50, "titleAlign": "center", "titleBaseline": "alphabetic"}},
          "y": {"field": "v", "type": "quantitative", "scale": {"domain": [-0.1, 1.1], "nice": false, "zero": false},
                "axis": {"orient": "left", "values": [0,0.25,0.5,0.75,1], "ticks": false, "grid": true, "labelPadding": 13, "labelExpr": "'' + datum.value",
                         "title": "tracking errors", "titleFont": "DejaVu Sans", "titleFontSize": 24, "titleAngle": 270, "titleX": -81, "titleY": 84, "titleAlign": "center", "titleBaseline": "middle"}},
          "color": {"field": "m", "type": "nominal", "scale": {"domain": ["Proposed method", "Das's method"], "range": ["#0000ff", "#ff00ff"]},
                    "legend": {"legendX": 743, "legendY": 25}},
          "strokeDash": {"field": "m", "type": "nominal", "scale": {"domain": ["Proposed method", "Das's method"], "range": [[1, 0], [18, 6, 3, 6]]},
                    "legend": {"legendX": 743, "legendY": 25}}
        }
      },
      {
        "mark": {"type": "point", "opacity": 0},
        "encoding": {
          "x": {"field": "t", "type": "quantitative", "scale": {"domain": [0, 80], "nice": false, "zero": false},
                "axis": {"orient": "bottom", "values": [0,10,20,30,40,50,60,70,80], "labels": false, "grid": false, "tickSize": -10, "title": null}},
          "y": {"field": "v", "type": "quantitative", "scale": {"domain": [-0.1, 1.1], "nice": false, "zero": false},
                "axis": {"orient": "left", "values": [0,0.125,0.25,0.375,0.5,0.625,0.75,0.875,1], "labels": false, "grid": false, "title": null,
                         "tickSize": {"condition": {"test": "abs(datum.value*4 - round(datum.value*4)) < 0.01", "value": -10}, "value": -6}}}
        }
      },
      {
        "mark": {"type": "point", "opacity": 0},
        "encoding": {
          "x": {"field": "t", "type": "quantitative", "scale": {"domain": [0, 80], "nice": false, "zero": false},
                "axis": {"orient": "top", "values": [0,10,20,30,40,50,60,70,80], "labels": false, "grid": false, "tickSize": -10, "title": null}},
          "y": {"field": "v", "type": "quantitative", "scale": {"domain": [-0.1, 1.1], "nice": false, "zero": false},
                "axis": {"orient": "right", "values": [0,0.125,0.25,0.375,0.5,0.625,0.75,0.875,1], "labels": false, "grid": false, "title": null,
                         "tickSize": {"condition": {"test": "abs(datum.value*4 - round(datum.value*4)) < 0.01", "value": -10}, "value": -6}}}
        }
      }
    ]
  }
]
}
